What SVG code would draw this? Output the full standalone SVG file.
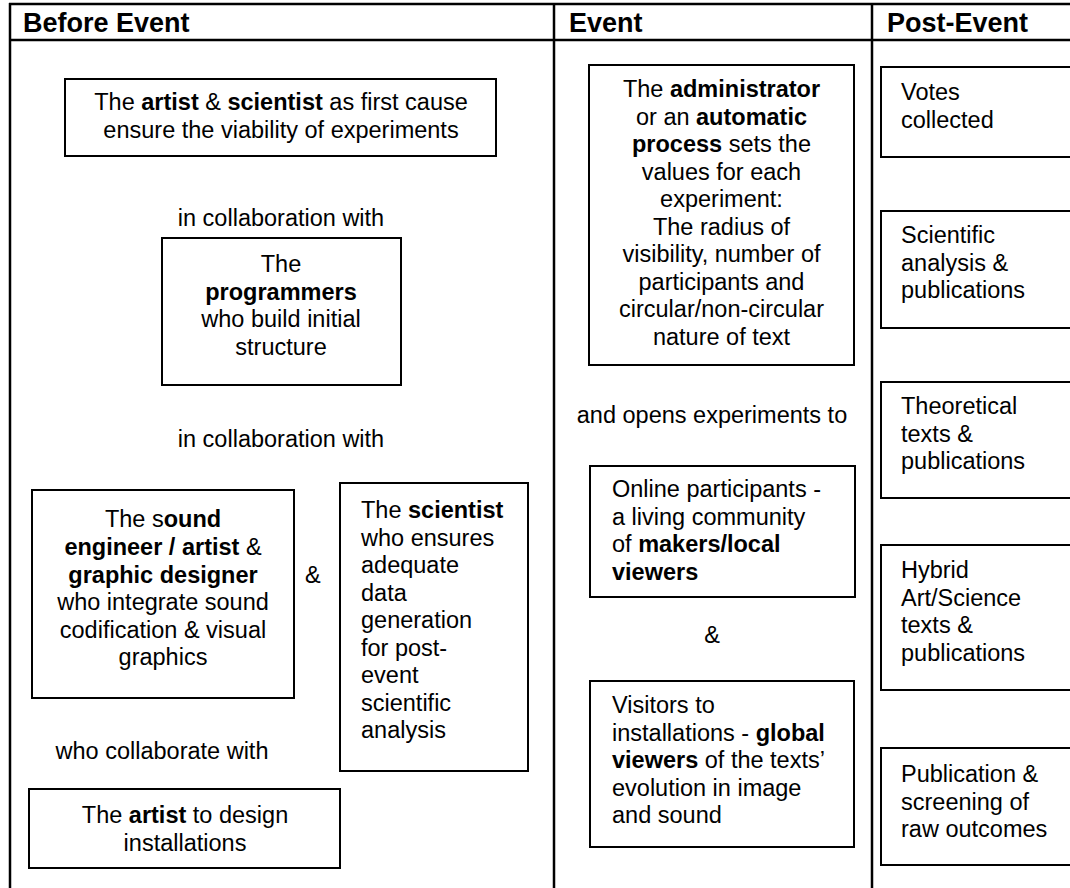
<svg xmlns="http://www.w3.org/2000/svg" width="1070" height="888" viewBox="0 0 1070 888">
  <style>
    text { font-family: "Liberation Sans", Arial, sans-serif; font-size: 23.5px; fill: #000; }
    .hd { font-size: 27px; font-weight: bold; }
    .b { font-weight: bold; }
    .c { text-anchor: middle; }
    .grid { stroke: #000; stroke-width: 2.5; fill: none; }
    .box { stroke: #000; stroke-width: 2; fill: #fff; }
  </style>
  <rect width="1070" height="888" fill="#fff"/>

  <!-- table frame: header row and three columns, open at the bottom and right -->
  <g id="grid" class="grid">
    <line x1="9" y1="4" x2="1072" y2="4"/>
    <line x1="9" y1="40" x2="1072" y2="40"/>
    <line x1="10" y1="3" x2="10" y2="890"/>
    <line x1="554" y1="3" x2="554" y2="890"/>
    <line x1="872" y1="3" x2="872" y2="890"/>
  </g>

  <g id="headers">
    <text class="hd" x="23" y="32">Before Event</text>
    <text class="hd" x="569" y="32">Event</text>
    <text class="hd" x="887" y="32">Post-Event</text>
  </g>

  <!-- Before Event column -->
  <g id="first-cause">
    <rect class="box" x="65" y="79" width="431" height="77"/>
    <text class="c" x="281" y="110">The <tspan class="b">artist</tspan> &amp; <tspan class="b">scientist</tspan> as first cause</text>
    <text class="c" x="281" y="138">ensure the viability of experiments</text>
  </g>
  <text id="collab-1" class="c" x="281" y="226">in collaboration with</text>
  <g id="programmers">
    <rect class="box" x="162" y="238" width="239" height="147"/>
    <text class="c" x="281" y="272">The</text>
    <text class="c b" x="281" y="299.5">programmers</text>
    <text class="c" x="281" y="327">who build initial</text>
    <text class="c" x="281" y="354.5">structure</text>
  </g>
  <text id="collab-2" class="c" x="281" y="447">in collaboration with</text>
  <g id="sound-engineer">
    <rect class="box" x="32" y="490" width="262" height="208"/>
    <text class="c" x="163" y="527">The s<tspan class="b">ound</tspan></text>
    <text class="c" x="163" y="555"><tspan class="b">engineer / artist</tspan> &amp;</text>
    <text class="c b" x="163" y="582.5">graphic designer</text>
    <text class="c" x="163" y="610">who integrate sound</text>
    <text class="c" x="163" y="637.5">codification &amp; visual</text>
    <text class="c" x="163" y="665">graphics</text>
  </g>
  <text id="and-1" x="305" y="582.5">&amp;</text>
  <g id="data-scientist">
    <rect class="box" x="340" y="483" width="188" height="288"/>
    <text x="361" y="518"><tspan>The </tspan><tspan class="b">scientist</tspan></text>
    <text x="361" y="545.5">who ensures</text>
    <text x="361" y="573">adequate</text>
    <text x="361" y="600.5">data</text>
    <text x="361" y="628">generation</text>
    <text x="361" y="655.5">for post-</text>
    <text x="361" y="683">event</text>
    <text x="361" y="710.5">scientific</text>
    <text x="361" y="738">analysis</text>
  </g>
  <text id="collab-3" class="c" x="162" y="759">who collaborate with</text>
  <g id="installation-artist">
    <rect class="box" x="29" y="789" width="311" height="79"/>
    <text class="c" x="185" y="823">The <tspan class="b">artist</tspan> to design</text>
    <text class="c" x="185" y="851">installations</text>
  </g>

  <!-- Event column -->
  <g id="administrator">
    <rect class="box" x="589" y="65" width="265" height="300"/>
    <text class="c" x="721.5" y="97">The <tspan class="b">administrator</tspan></text>
    <text class="c" x="721.5" y="124.5">or an <tspan class="b">automatic</tspan></text>
    <text class="c" x="721.5" y="152"><tspan class="b">process</tspan> sets the</text>
    <text class="c" x="721.5" y="179.5">values for each</text>
    <text class="c" x="721.5" y="207">experiment:</text>
    <text class="c" x="721.5" y="234.5">The radius of</text>
    <text class="c" x="721.5" y="262">visibility, number of</text>
    <text class="c" x="721.5" y="289.5">participants and</text>
    <text class="c" x="721.5" y="317">circular/non-circular</text>
    <text class="c" x="721.5" y="344.5">nature of text</text>
  </g>
  <text id="opens" class="c" x="712" y="423">and opens experiments to</text>
  <g id="online-participants">
    <rect class="box" x="590" y="466" width="265" height="131"/>
    <text x="612" y="497">Online participants -</text>
    <text x="612" y="524.5">a living community</text>
    <text x="612" y="552">of <tspan class="b">makers/local</tspan></text>
    <text class="b" x="612" y="579.5">viewers</text>
  </g>
  <text id="and-2" class="c" x="712" y="643">&amp;</text>
  <g id="visitors">
    <rect class="box" x="590" y="681" width="264" height="166"/>
    <text x="612" y="713">Visitors to</text>
    <text x="612" y="740.5">installations - <tspan class="b">global</tspan></text>
    <text x="612" y="768"><tspan class="b">viewers</tspan> of the texts’</text>
    <text x="612" y="795.5">evolution in image</text>
    <text x="612" y="823">and sound</text>
  </g>

  <!-- Post-Event column: boxes run past the right edge -->
  <g id="votes">
    <rect class="box" x="881" y="67" width="200" height="90"/>
    <text x="901" y="100">Votes</text>
    <text x="901" y="127.5">collected</text>
  </g>
  <g id="scientific-analysis">
    <rect class="box" x="881" y="211" width="200" height="117"/>
    <text x="901" y="243">Scientific</text>
    <text x="901" y="270.5">analysis &amp;</text>
    <text x="901" y="298">publications</text>
  </g>
  <g id="theoretical-texts">
    <rect class="box" x="881" y="382" width="200" height="116"/>
    <text x="901" y="414">Theoretical</text>
    <text x="901" y="441.5">texts &amp;</text>
    <text x="901" y="469">publications</text>
  </g>
  <g id="hybrid-texts">
    <rect class="box" x="881" y="545" width="200" height="145"/>
    <text x="901" y="578">Hybrid</text>
    <text x="901" y="605.5">Art/Science</text>
    <text x="901" y="633">texts &amp;</text>
    <text x="901" y="660.5">publications</text>
  </g>
  <g id="raw-outcomes">
    <rect class="box" x="881" y="748" width="200" height="117"/>
    <text x="901" y="782">Publication &amp;</text>
    <text x="901" y="809.5">screening of</text>
    <text x="901" y="837">raw outcomes</text>
  </g>
</svg>
